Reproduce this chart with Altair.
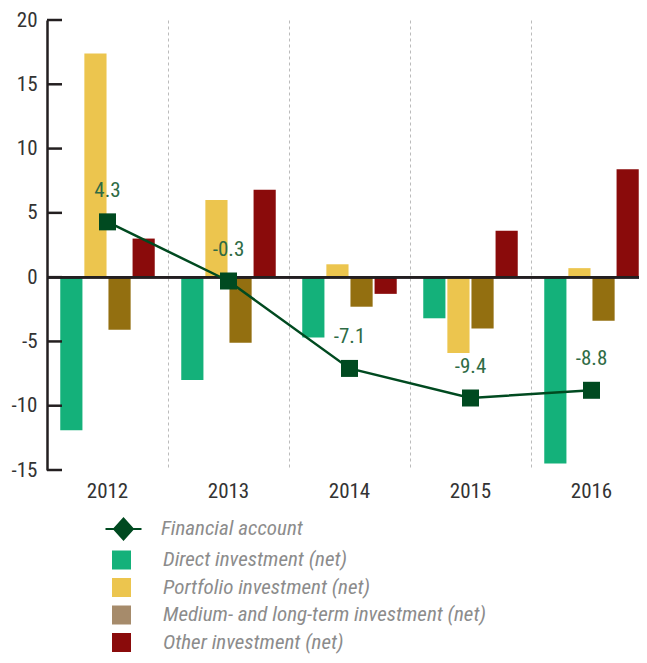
import altair as alt
import pandas as pd

# ---- data ----
years = ["2012", "2013", "2014", "2015", "2016"]
series = [
    "Direct investment (net)",
    "Portfolio investment (net)",
    "Medium- and long-term investment (net)",
    "Other investment (net)",
]
direct = [-11.9, -8.0, -4.7, -3.2, -14.5]
portfolio = [17.4, 6.0, 1.0, -5.9, 0.7]
medium = [-4.1, -5.1, -2.3, -4.0, -3.4]
other = [3.0, 6.8, -1.3, 3.6, 8.4]
financial = [4.3, -0.3, -7.1, -9.4, -8.8]
fa_name = "Financial account"
y_ticks = [-15, -10, -5, 0, 5, 10, 15, 20]

# ---- styles ----
bar_colors = ["#14b17a", "#ecc54e", "#936f10", "#8a0b0b"]
legend_colors = ["#14b17a", "#ecc54e", "#a68b6b", "#8a0b0b"]
fa_color = "#004a20"
fa_label_color = "#2e6b45"
axis_color = "#231f20"
FONT = "Liberation Sans Narrow, Roboto Condensed, DejaVu Sans Condensed, Liberation Sans, sans-serif"
FA_SYMBOL = "M-1,-0.06L1,-0.06L1,0.06L-1,0.06Z M0,-0.66L0.6,0L0,0.66L-0.6,0Z"
PLOT_W = 605
PLOT_H = 450

rows = []
for vals, name in zip([direct, portfolio, medium, other], series):
    for yr, v in zip(years, vals):
        rows.append({"year": yr, "series": name, "value": v})
bars_df = pd.DataFrame(rows)
fa_df = pd.DataFrame({
    "year": years,
    "fa": financial,
    "fa_text": [f"{v:.1f}" for v in financial],
    "name": [fa_name] * len(years),
})
ticks_df = pd.DataFrame({"tick": y_ticks})

x_enc = alt.X(
    "year:N",
    sort=years,
    scale=alt.Scale(paddingInner=0, paddingOuter=0),
    axis=alt.Axis(
        title=None, labelAngle=0, ticks=False, tickSize=0, domain=False,
        grid=True, gridDash=[3, 3], gridColor="#bbbbbb", gridWidth=1,
        bandPosition=0, labelPadding=10,
    ),
)
y_scale = alt.Scale(domain=[-15, 20], nice=False, zero=False)
y_enc = alt.Y(
    "value:Q",
    scale=y_scale,
    axis=alt.Axis(
        title=None, values=y_ticks, ticks=False, tickSize=0, grid=False,
        domainColor=axis_color, domainWidth=2.5, labelPadding=10,
        labelExpr="replace(datum.label, '\u2212', '-')",
    ),
)

bars = alt.Chart(bars_df).mark_bar().encode(
    x=x_enc,
    xOffset=alt.XOffset(
        "series:N", sort=series,
        scale=alt.Scale(domain=series, paddingInner=0.08, paddingOuter=0.55),
    ),
    y=y_enc,
    fill=alt.Fill("series:N", sort=series, scale=alt.Scale(range=bar_colors), legend=None),
)

zero_rule = alt.Chart(ticks_df).mark_rule(color=axis_color, strokeWidth=2).encode(
    y=alt.datum(0)
)

tick_marks = alt.Chart(ticks_df).mark_rule(color=axis_color, strokeWidth=2.5).encode(
    y=alt.Y("tick:Q", scale=y_scale),
    x=alt.value(0),
    x2=alt.value(15),
)

fa_line = alt.Chart(fa_df).mark_line(color=fa_color, strokeWidth=2.5).encode(
    x=alt.X("year:N", sort=years),
    y=alt.Y("fa:Q", scale=y_scale),
)
fa_points = alt.Chart(fa_df).mark_square(
    color=fa_color, size=289, filled=True, opacity=1
).encode(
    x=alt.X("year:N", sort=years),
    y=alt.Y("fa:Q", scale=y_scale),
)
fa_labels = alt.Chart(fa_df).mark_text(
    dy=-31, fontSize=21, color=fa_label_color, font=FONT
).encode(
    x=alt.X("year:N", sort=years),
    y=alt.Y("fa:Q", scale=y_scale),
    text=alt.Text("fa_text:N"),
)

# legend-only layers (no rows survive the filter; the legends come from explicit scale domains)
legend_bars = alt.Chart(bars_df).transform_filter("datum.value > 1000").mark_square(
    filled=True, opacity=1
).encode(
    x=alt.X("year:N", sort=years),
    y=alt.Y("value:Q", scale=y_scale),
    color=alt.Color(
        "series:N",
        scale=alt.Scale(domain=series, range=legend_colors),
        legend=alt.Legend(
            title=None, orient="none", legendX=64, legendY=529.5, direction="vertical",
            symbolType="square", symbolSize=361, symbolStrokeWidth=0,
            labelOffset=31, rowPadding=5.5, padding=0,
        ),
    ),
)
legend_fa = alt.Chart(fa_df).transform_filter("datum.fa > 1000").mark_point(
    filled=True, color=fa_color, opacity=1
).encode(
    x=alt.X("year:N", sort=years),
    y=alt.Y("fa:Q", scale=y_scale),
    shape=alt.Shape(
        "name:N",
        scale=alt.Scale(domain=[fa_name], range=[FA_SYMBOL]),
        legend=alt.Legend(
            title=None, orient="none", legendX=58.5, legendY=491,
            symbolSize=1296, symbolStrokeWidth=0, symbolFillColor=fa_color,
            labelOffset=19.5, padding=0,
        ),
    ),
)

chart = alt.layer(
    bars, zero_rule, tick_marks, fa_line, fa_points, fa_labels, legend_bars, legend_fa
).properties(
    width=PLOT_W, height=PLOT_H,
    autosize=alt.AutoSizeParams(type="none"),
    padding={"left": 39, "top": 12, "right": -13, "bottom": 184},
).configure_view(stroke=None).configure_axis(
    labelFont=FONT, labelFontSize=21, labelColor="#333333",
).configure_legend(
    labelFont=FONT, labelFontSize=21, labelFontStyle="italic", labelColor="#8c8c8c",
    labelLimit=0,
)

chart.save("out.html", embed_options={"renderer": "svg", "actions": False})
